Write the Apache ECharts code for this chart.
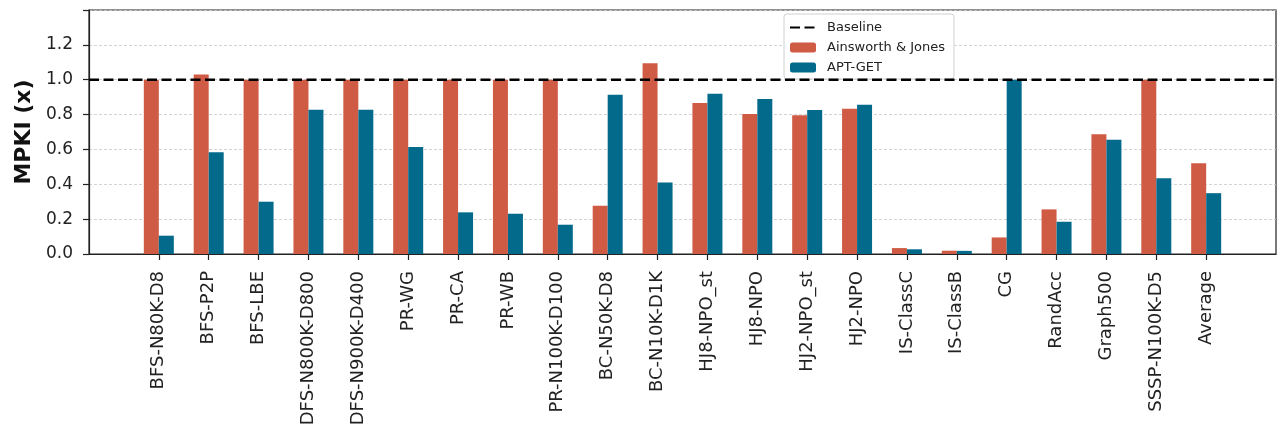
<!DOCTYPE html>
<html>
<head>
<meta charset="utf-8">
<script src="https://cdn.jsdelivr.net/npm/echarts@6/dist/echarts.min.js"></script>
<style>
  html, body { margin: 0; padding: 0; background: #fff; }
  #main { width: 1286px; height: 436px; }
</style>
</head>
<body>
<div id="main"></div>
<script>
// benchmarks on the x axis
var categories = ['BFS-N80K-D8', 'BFS-P2P', 'BFS-LBE', 'DFS-N800K-D800', 'DFS-N900K-D400',
    'PR-WG', 'PR-CA', 'PR-WB', 'PR-N100K-D100', 'BC-N50K-D8', 'BC-N10K-D1K',
    'HJ8-NPO_st', 'HJ8-NPO', 'HJ2-NPO_st', 'HJ2-NPO', 'IS-ClassC', 'IS-ClassB',
    'CG', 'RandAcc', 'Graph500', 'SSSP-N100K-D5', 'Average'];

// normalised MPKI
var ainsworth = [1.0, 1.03, 1.0, 1.0, 1.0, 1.0, 1.0, 1.0, 1.0, 0.277, 1.095,
    0.866, 0.803, 0.796, 0.834, 0.034, 0.019, 0.095, 0.256, 0.687, 1.0, 0.521];
var aptget = [0.105, 0.584, 0.30, 0.828, 0.828, 0.614, 0.239, 0.231, 0.168, 0.914, 0.41,
    0.92, 0.889, 0.826, 0.857, 0.027, 0.018, 1.0, 0.185, 0.656, 0.435, 0.349];
var baseline = 1.0;

var yTicks = [0, 0.2, 0.4, 0.6, 0.8, 1.0, 1.2];

var idx = categories.map(function (c, i) { return i; });

var chart = echarts.init(document.getElementById('main'));

var option = {
    animation: false,
    backgroundColor: '#fff',
    textStyle: { fontFamily: 'DejaVu Sans' },
    grid: {
        left: 89, right: 10, top: 10, bottom: 182,
        show: true, borderColor: '#222', borderWidth: 1.2,
        containLabel: false
    },
    legend: {
        orient: 'vertical',
        left: 784, top: 14,
        padding: [7, 9, 5, 5],
        itemWidth: 26, itemHeight: 10, itemGap: 7,
        backgroundColor: 'rgba(255,255,255,0.85)',
        borderColor: '#d0d0d0', borderWidth: 1, borderRadius: 3,
        textStyle: { fontFamily: 'DejaVu Sans', fontSize: 13, color: '#222', padding: [0, 0, 0, 6] },
        data: [
            { name: 'Baseline', itemStyle: { opacity: 0 } },
            'Ainsworth & Jones',
            'APT-GET'
        ]
    },
    xAxis: {
        type: 'value',
        min: -1.4, max: 22.4,
        splitLine: { show: false },
        axisLine: { show: true, onZero: false, lineStyle: { color: '#222', width: 1.2 } },
        axisTick: { show: true, length: 6, customValues: idx, lineStyle: { color: '#222', width: 1.2 } },
        axisLabel: {
            customValues: idx,
            rotate: 90, margin: 17,
            fontSize: 18, color: '#222', fontFamily: 'DejaVu Sans',
            formatter: function (v) { return categories[Math.round(v)]; }
        }
    },
    yAxis: {
        type: 'value',
        min: 0, max: 1.4, interval: 0.2,
        name: 'MPKI (x)',
        nameLocation: 'middle', nameGap: 54,
        nameTextStyle: { fontSize: 22, fontWeight: 'bold', color: '#111', fontFamily: 'DejaVu Sans' },
        axisLine: { show: true, onZero: false, lineStyle: { color: '#222', width: 1.2 } },
        axisTick: { show: true, length: 6, lineStyle: { color: '#222', width: 1.2 } },
        axisLabel: {
            fontSize: 17, color: '#222', margin: 16,
            formatter: function (v) {
                return yTicks.some(function (t) { return Math.abs(t - v) < 1e-6; }) ? v.toFixed(1) : '';
            }
        },
        splitLine: { show: true, lineStyle: { color: '#c8c8c8', type: [3, 2], width: 0.8 } }
    },
    series: [
        {
            name: 'Baseline',
            type: 'line',
            symbol: 'none',
            z: 5,
            lineStyle: { color: '#000', width: 2.5, type: [10, 4.5] },
            itemStyle: { color: '#000' },
            data: [[-1.4, baseline], [22.4, baseline]]
        },
        {
            name: 'Ainsworth & Jones',
            type: 'bar',
            barWidth: 15,
            barGap: '0%',
            itemStyle: { color: '#cf5b45' },
            data: ainsworth.map(function (v, i) { return [i, v]; })
        },
        {
            name: 'APT-GET',
            type: 'bar',
            barWidth: 15,
            barGap: '0%',
            itemStyle: { color: '#036a8c' },
            data: aptget.map(function (v, i) { return [i, v]; })
        }
    ]
};

chart.setOption(option);
</script>
</body>
</html>
